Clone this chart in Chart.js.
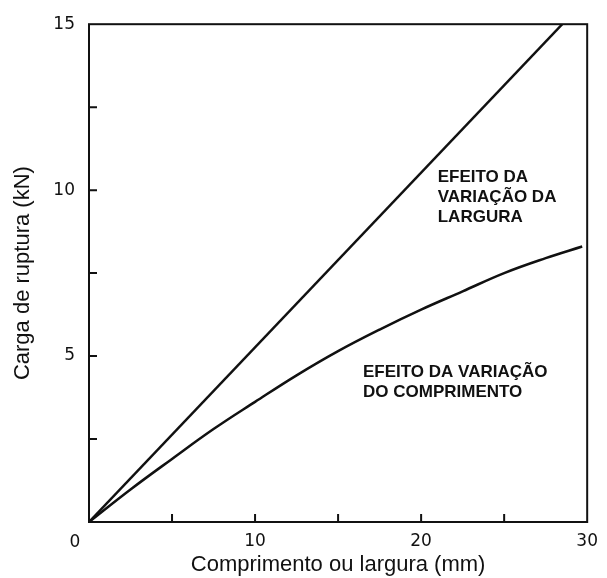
<!DOCTYPE html>
<html>
<head>
<meta charset="utf-8">
<script src="https://cdn.jsdelivr.net/npm/chart.js@4.4.1/dist/chart.umd.min.js"></script>
<style>
  html, body { margin: 0; padding: 0; background: #fff; }
  #wrap { width: 607px; height: 578px; }
</style>
</head>
<body>
<div id="wrap"><canvas id="grafico" width="607" height="578"></canvas></div>
<script>
// valores
const largura_x = [0, 28.5];
const largura_y = [0, 15];
const comprimento_x = [0, 2.5, 5, 7.5, 10, 12.5, 15, 17.5, 20, 22.5, 25, 27.5, 29.7];
const comprimento_y = [0, 0.98, 1.9, 2.8, 3.62, 4.42, 5.15, 5.8, 6.4, 6.95, 7.5, 7.95, 8.3];
const xTicks = [5, 10, 15, 20, 25];
const yTicks = [2.5, 5, 7.5, 10, 12.5];
const xLabels = [10, 20, 30];
const yLabels = [5, 10, 15];

const pontos = (xs, ys) => xs.map((x, i) => ({ x, y: ys[i] }));

// moldura, marcas internas, "0" e textos
const molduraPlugin = {
  id: 'moldura',
  afterDraw(chart) {
    const { ctx, chartArea: a, scales } = chart;
    const sx = scales.x, sy = scales.y;
    ctx.save();
    ctx.strokeStyle = '#111';
    ctx.lineWidth = 2;
    ctx.strokeRect(a.left, a.top, a.right - a.left, a.bottom - a.top);
    ctx.beginPath();
    xTicks.forEach(v => {
      const px = sx.getPixelForValue(v);
      ctx.moveTo(px, a.bottom);
      ctx.lineTo(px, a.bottom - 8);
    });
    yTicks.forEach(v => {
      const py = sy.getPixelForValue(v);
      ctx.moveTo(a.left, py);
      ctx.lineTo(a.left + 8, py);
    });
    ctx.stroke();

    ctx.fillStyle = '#111';
    ctx.font = '17px "DejaVu Sans"';
    ctx.textAlign = 'center';
    ctx.textBaseline = 'middle';
    ctx.fillText('0', sx.getPixelForValue(0) - 14, a.bottom + 21);

    ctx.font = 'bold 17px "Liberation Sans", sans-serif';
    ctx.textAlign = 'left';
    const t1 = ['EFEITO DA', 'VARIAÇÃO DA', 'LARGURA'];
    t1.forEach((s, i) => ctx.fillText(s, sx.getPixelForValue(21), sy.getPixelForValue(10.4) + i * 20));
    const t2 = ['EFEITO DA VARIAÇÃO', 'DO COMPRIMENTO'];
    t2.forEach((s, i) => ctx.fillText(s, sx.getPixelForValue(16.5), sy.getPixelForValue(4.5) + i * 20));
    ctx.restore();
  }
};

const ctx = document.getElementById('grafico').getContext('2d');
new Chart(ctx, {
  type: 'scatter',
  data: {
    datasets: [
      {
        label: 'Efeito da variação da largura',
        data: pontos(largura_x, largura_y),
        showLine: true,
        borderColor: '#111',
        borderWidth: 2.5,
        pointRadius: 0
      },
      {
        label: 'Efeito da variação do comprimento',
        data: pontos(comprimento_x, comprimento_y),
        showLine: true,
        borderColor: '#111',
        borderWidth: 2.5,
        pointRadius: 0,
        tension: 0.4
      }
    ]
  },
  options: {
    responsive: false,
    animation: false,
    layout: { padding: { left: 0, right: 19, top: 21, bottom: 0 } },
    plugins: {
      legend: { display: false },
      tooltip: { enabled: false }
    },
    scales: {
      x: {
        type: 'linear',
        min: 0,
        max: 30,
        afterFit: s => { s.height = 56; },
        grid: { display: false, drawTicks: false },
        border: { display: false },
        ticks: {
          stepSize: 10,
          padding: 9,
          color: '#111',
          font: { family: 'DejaVu Sans', size: 17 },
          callback: v => xLabels.includes(v) ? String(v) : ''
        },
        title: {
          display: true,
          text: 'Comprimento ou largura (mm)',
          color: '#111',
          font: { family: 'Liberation Sans', size: 22 },
          padding: { top: 0, bottom: 0 }
        }
      },
      y: {
        type: 'linear',
        min: 0,
        max: 15,
        afterFit: s => { s.width = 89; },
        grid: { display: false, drawTicks: false },
        border: { display: false },
        ticks: {
          stepSize: 5,
          padding: 14,
          color: '#111',
          font: { family: 'DejaVu Sans', size: 17 },
          callback: v => yLabels.includes(v) ? String(v) : ''
        },
        title: {
          display: true,
          text: 'Carga de ruptura (kN)',
          color: '#111',
          font: { family: 'Liberation Sans', size: 22 },
          padding: { top: 10, bottom: 0 }
        }
      }
    }
  },
  plugins: [molduraPlugin]
});
</script>
</body>
</html>
